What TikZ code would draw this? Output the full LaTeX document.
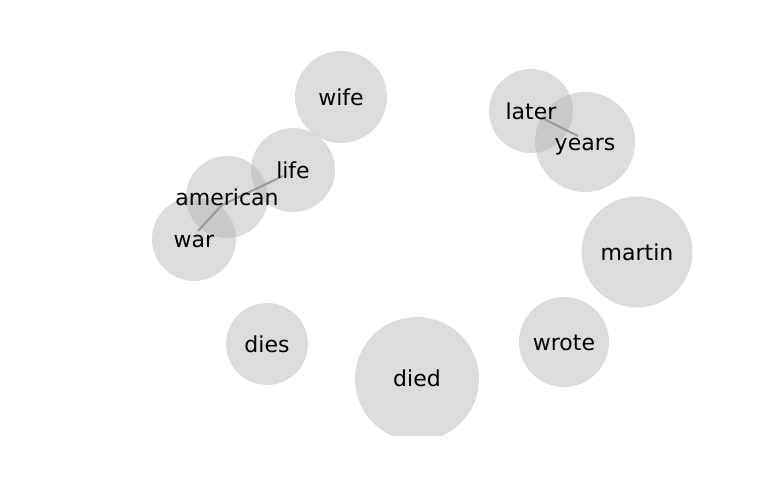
\documentclass[tikz,border=0pt]{standalone}
\usepackage{fontspec}
\setmainfont{DejaVu Sans}
\begin{document}
\begin{tikzpicture}[x=1pt,y=-1pt,
  bub/.style={circle,fill=black!30,fill opacity=0.45,draw=none,inner sep=0pt,minimum size=#1},
  word/.style={font=\fontsize{22}{22}\selectfont,text=black,inner sep=0pt,anchor=base},
  link/.style={draw=black!45,line width=2pt,opacity=0.8}]
\useasboundingbox (0,0) rectangle (768,500);
\begin{scope}
\clip (0,0) rectangle (768,435);
\node[bub=92pt]  (wife)     at (341,97)  {};
\node[bub=84pt]  (later)    at (531,111) {};
\node[bub=100pt] (years)    at (585,142) {};
\node[bub=84pt]  (life)     at (293,170) {};
\node[bub=82pt]  (american) at (227,197) {};
\node[bub=84pt]  (war)      at (194,239) {};
\node[bub=111pt] (martin)   at (637,252) {};
\node[bub=82pt]  (dies)     at (267,344) {};
\node[bub=90pt]  (wrote)    at (564,342) {};
\node[bub=124pt] (died)     at (417,379) {};
\end{scope}
\coordinate (cwar) at (198,231);
\coordinate (camerican) at (222,205);
\coordinate (clife) at (283,176);
\coordinate (clater) at (542,118);
\coordinate (cyears) at (578,136);
\draw[link] (cwar) -- (camerican) -- (clife);
\draw[link] (clater) -- (cyears);
\node[word] (twife)     at (341,105.5) {wife};
\node[word] (tlater)    at (531,119.5) {later};
\node[word] (tyears)    at (585,150.5) {years};
\node[word] (tlife)     at (293,178.5) {life};
\node[word] (tamerican) at (227,205.5) {american};
\node[word] (twar)      at (194,247.5) {war};
\node[word] (tmartin)   at (637,260.5) {martin};
\node[word] (tdies)     at (267,352.5) {dies};
\node[word] (twrote)    at (564,350.5) {wrote};
\node[word] (tdied)     at (417,386.5) {died};
\end{tikzpicture}
\end{document}
